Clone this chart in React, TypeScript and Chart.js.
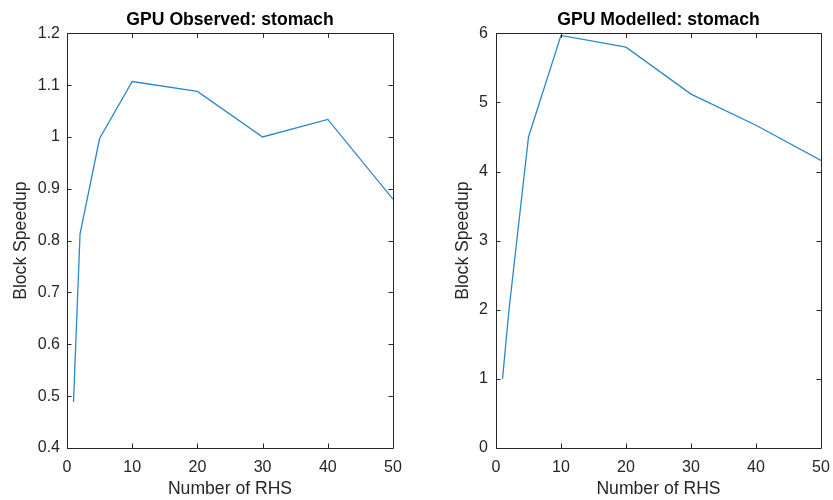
import React, { useEffect, useRef } from "react";
import { Chart, registerables } from "chart.js";

Chart.register(...registerables);

// Number of right-hand sides solved together
const rhsCounts = [1, 2, 5, 10, 20, 30, 40, 50];
// Measured block speedup on the GPU
const observedSpeedup = [0.489, 0.813, 0.997, 1.107, 1.088, 1.0, 1.034, 0.88];
// Speedup predicted by the performance model
const modelledSpeedup = [1.0, 2.0, 4.5, 5.97, 5.8, 5.12, 4.67, 4.16];

const observedTicks = [0.4, 0.5, 0.6, 0.7, 0.8, 0.9, 1, 1.1, 1.2];
const modelledTicks = [0, 1, 2, 3, 4, 5, 6];
const rhsTicks = [0, 10, 20, 30, 40, 50];

const TEXT = "#262626";
const LINE = "#2a86cb";
const FONT = "Arial, 'Liberation Sans', Helvetica, sans-serif";

// Draws a closed box around the plot area with inward-pointing tick marks on all four sides.
const boxTicks = {
  id: "boxTicks",
  afterDraw(chart: any) {
    const { ctx, chartArea } = chart;
    const { left, right, top, bottom } = chartArea;
    const xs = chart.scales.x;
    const ys = chart.scales.y;
    const len = 4.5;
    ctx.save();
    ctx.strokeStyle = TEXT;
    ctx.lineWidth = 1;
    ctx.beginPath();
    ctx.rect(Math.round(left) + 0.5, Math.round(top) + 0.5, Math.round(right - left), Math.round(bottom - top));
    xs.ticks.forEach((t: any) => {
      const px = Math.round(xs.getPixelForValue(t.value)) + 0.5;
      ctx.moveTo(px, bottom);
      ctx.lineTo(px, bottom - len);
      ctx.moveTo(px, top);
      ctx.lineTo(px, top + len);
    });
    ys.ticks.forEach((t: any) => {
      const py = Math.round(ys.getPixelForValue(t.value)) + 0.5;
      ctx.moveTo(left, py);
      ctx.lineTo(left + len, py);
      ctx.moveTo(right, py);
      ctx.lineTo(right - len, py);
    });
    ctx.stroke();
    ctx.restore();
  },
};

type PanelProps = {
  title: string;
  values: number[];
  yTicks: number[];
  yAxisWidth: number;
  yTitleOffset: number;
  yTickPad: number;
  rightPad: number;
  decimals: number;
  width: number;
};

function PanelCanvas(props: PanelProps) {
  const ref = useRef<HTMLCanvasElement | null>(null);
  useEffect(() => {
    if (!ref.current) return;
    const { title, values, yTicks, yAxisWidth, yTitleOffset, yTickPad, rightPad, decimals } = props;
    const chart = new Chart(ref.current, {
      type: "line",
      data: {
        datasets: [
          {
            data: rhsCounts.map((x, i) => ({ x, y: values[i] })),
            borderColor: LINE,
            borderWidth: 1.3,
            pointRadius: 0,
            tension: 0,
            fill: false,
          },
        ],
      },
      options: {
        animation: false,
        responsive: false,
        events: [],
        layout: { padding: { left: 0, right: rightPad, top: 0, bottom: 0 } },
        plugins: {
          legend: { display: false },
          tooltip: { enabled: false },
          title: {
            display: true,
            text: title,
            fullSize: false,
            color: "#000",
            font: { family: FONT, size: 17.6, weight: "bold" },
            padding: { top: 9.5, bottom: 2.7 },
          },
        },
        scales: {
          x: {
            type: "linear",
            min: 0,
            max: 50,
            afterBuildTicks: (s: any) => {
              s.ticks = rhsTicks.map((v) => ({ value: v }));
            },
            afterFit: (s: any) => {
              s.height = 52;
            },
            border: { display: false },
            grid: { display: false, drawTicks: false },
            ticks: {
              color: TEXT,
              font: { family: FONT, size: 16 },
              padding: 10,
              maxRotation: 0,
              autoSkip: false,
            },
            title: {
              display: true,
              text: "Number of RHS",
              color: TEXT,
              font: { family: FONT, size: 17.6 },
              padding: { top: 0, bottom: 0 },
            },
          },
          y: {
            type: "linear",
            min: yTicks[0],
            max: yTicks[yTicks.length - 1],
            afterBuildTicks: (s: any) => {
              s.ticks = yTicks.map((v) => ({ value: v }));
            },
            afterFit: (s: any) => {
              s.width = yAxisWidth;
            },
            border: { display: false },
            grid: { display: false, drawTicks: false },
            ticks: {
              color: TEXT,
              font: { family: FONT, size: 16 },
              padding: yTickPad,
              autoSkip: false,
              callback: (v: any) => {
                const n = Number(v);
                return decimals > 0 && !Number.isInteger(n) ? n.toFixed(decimals) : String(n);
              },
            },
            title: {
              display: true,
              text: "Block Speedup",
              color: TEXT,
              font: { family: FONT, size: 17.6 },
              padding: { top: yTitleOffset, bottom: 0 },
            },
          },
        },
      },
      plugins: [boxTicks],
    });
    return () => chart.destroy();
  }, []);
  return (
    <canvas
      ref={ref}
      width={props.width}
      height={500}
      style={{ display: "block", width: props.width, height: 500 }}
    />
  );
}

function Panel(props: PanelProps & { left: number }) {
  const { left, ...rest } = props;
  return (
    <div style={{ position: "absolute", left, top: 0, width: props.width, height: 500 }}>
      <PanelCanvas {...rest} />
    </div>
  );
}

export default function App() {
  return (
    <div
      style={{
        position: "fixed",
        left: 0,
        top: 0,
        width: 833,
        height: 500,
        background: "#fff",
        overflow: "hidden",
      }}
    >
      <Panel
        left={0}
        width={416}
        title="GPU Observed: stomach"
        values={observedSpeedup}
        yTicks={observedTicks}
        yAxisWidth={67}
        yTitleOffset={10.9}
        yTickPad={7}
        rightPad={23}
        decimals={1}
      />
      <Panel
        left={416}
        width={430}
        title="GPU Modelled: stomach"
        values={modelledSpeedup}
        yTicks={modelledTicks}
        yAxisWidth={80}
        yTitleOffset={36.4}
        yTickPad={8}
        rightPad={25}
        decimals={0}
      />
    </div>
  );
}
